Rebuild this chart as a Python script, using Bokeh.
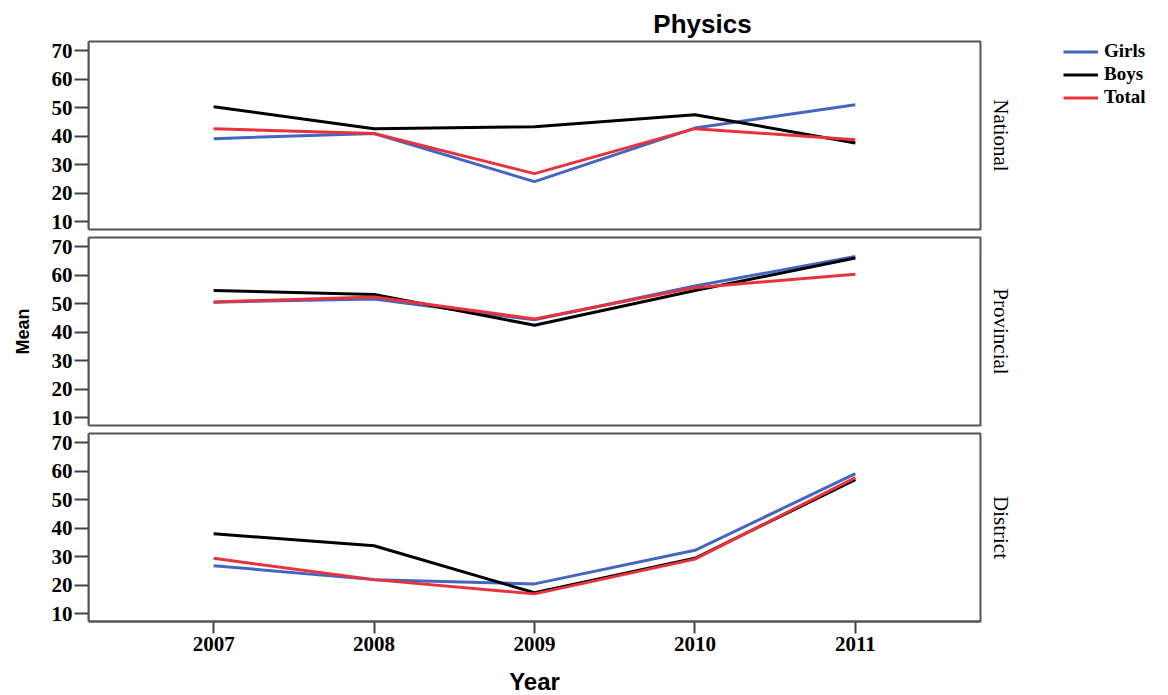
import math
from bokeh.plotting import figure
from bokeh.layouts import column
from bokeh.models import Range1d, FixedTicker, Legend, LegendItem, Label, BoxAnnotation
from bokeh.embed import file_html
from bokeh.resources import INLINE

years = [2007, 2008, 2009, 2010, 2011]
panels = ["National", "Provincial", "District"]

girls = {
    "National":   [39.1, 40.9, 24.0, 42.8, 51.0],
    "Provincial": [50.5, 51.6, 44.3, 56.2, 66.5],
    "District":   [26.8, 21.9, 20.4, 32.2, 59.1],
}
boys = {
    "National":   [50.3, 42.6, 43.3, 47.5, 37.6],
    "Provincial": [54.6, 53.2, 42.4, 54.6, 66.0],
    "District":   [38.0, 33.8, 17.3, 29.4, 57.0],
}
total = {
    "National":   [42.6, 40.9, 26.8, 42.6, 38.7],
    "Provincial": [50.6, 52.3, 44.6, 55.6, 60.3],
    "District":   [29.4, 21.9, 16.9, 29.1, 57.7],
}
y_ticks = [10, 20, 30, 40, 50, 60, 70]
series_names = ["Girls", "Boys", "Total"]
series_colors = ["#4466c0", "#000000", "#e8333d"]

# panel box extents (data)
X0, X1 = 2006.22, 2011.78
Y0, Y1 = 7.2, 73.2

W = 1168
LEFT = 88
BOX_W = 892
BOX_H = 188
kx = BOX_W / (X1 - X0)
ky = BOX_H / (Y1 - Y0)
X_END = X1 + (W - LEFT - BOX_W) / kx

SERIF = "Liberation Serif"
SANS = "Liberation Sans"
EDGE = "#555555"

# (space above box inside frame, space below box inside frame)
specs = [(41, 4), (4, 4), (4, 74)]

figs = []
for i, name in enumerate(panels):
    above, below = specs[i]
    frame_h = above + BOX_H + below
    p = figure(width=W, height=frame_h, output_backend="svg",
               toolbar_location=None,
               x_range=Range1d(X0, X_END),
               y_range=Range1d(Y0 - below / ky, Y1 + above / ky),
               min_border_left=LEFT, min_border_right=0,
               min_border_top=0, min_border_bottom=0)
    p.grid.visible = False
    p.outline_line_color = None
    p.background_fill_color = "white"
    p.border_fill_color = "white"

    p.add_layout(BoxAnnotation(left=X0, right=X1, bottom=Y0, top=Y1,
                               fill_alpha=0, line_color=EDGE, line_alpha=1.0,
                               line_width=2))

    # y axis
    ya = p.yaxis[0]
    ya.bounds = (Y0, Y1)
    ya.ticker = FixedTicker(ticks=y_ticks)
    ya.minor_tick_line_color = None
    ya.major_tick_in = 0
    ya.major_tick_out = 14
    ya.major_tick_line_color = "#444444"
    ya.major_tick_line_width = 2
    ya.axis_line_color = EDGE
    ya.axis_line_width = 2
    ya.major_label_standoff = 2
    ya.major_label_text_font = SERIF
    ya.major_label_text_font_style = "bold"
    ya.major_label_text_font_size = "21px"
    ya.major_label_text_color = "#000000"
    if i == 1:
        ya.axis_label = "Mean"
        ya.axis_label_text_font = SANS
        ya.axis_label_text_font_style = "bold"
        ya.axis_label_text_font_size = "18px"
        ya.axis_label_text_color = "#000000"
        ya.axis_label_standoff = 16

    # x axis (drawn at the bottom edge of the lowest box)
    xa = p.xaxis[0]
    if i == 2:
        xa.fixed_location = Y0
        xa.bounds = (X0, X1)
        xa.ticker = FixedTicker(ticks=years)
        xa.minor_tick_line_color = None
        xa.major_tick_in = 0
        xa.major_tick_out = 12
        xa.major_tick_line_color = "#444444"
        xa.major_tick_line_width = 2
        xa.axis_line_color = EDGE
        xa.axis_line_width = 2
        xa.major_label_standoff = 3
        xa.major_label_text_font = SERIF
        xa.major_label_text_font_style = "bold"
        xa.major_label_text_font_size = "21px"
        xa.major_label_text_color = "#000000"
        p.add_layout(Label(x=(X0 + X1) / 2, y=14, x_units="data", y_units="screen",
                           text="Year", text_align="center", text_baseline="middle",
                           text_font=SANS, text_font_style="bold",
                           text_font_size="24px", text_color="#000000"))
    else:
        xa.visible = False

    renderers = []
    for vals, col in zip([girls[name], boys[name], total[name]], series_colors):
        renderers.append(p.line(years, vals, line_color=col, line_width=3))

    # facet label at right of the box
    p.add_layout(Label(x=1000 - LEFT, y=(Y0 + Y1) / 2, x_units="screen", y_units="data",
                       text=name, angle=-math.pi / 2, text_align="center",
                       text_baseline="middle", text_font=SERIF,
                       text_font_size="21px", text_color="#000000"))

    if i == 0:
        p.add_layout(Label(x=702 - LEFT, y=frame_h - 23, x_units="screen",
                           y_units="screen", text="Physics", text_align="center",
                           text_baseline="middle", text_font=SANS,
                           text_font_style="bold", text_font_size="26px",
                           text_color="#000000"))
        legend = Legend(items=[LegendItem(label=n, renderers=[r])
                               for n, r in zip(series_names, renderers)],
                        location=(1063 - LEFT, frame_h - 108))
        legend.border_line_color = None
        legend.background_fill_alpha = 0
        legend.padding = 0
        legend.margin = 0
        legend.spacing = 1
        legend.glyph_width = 35
        legend.glyph_height = 19
        legend.label_height = 19
        legend.label_standoff = 6
        legend.label_text_font = SERIF
        legend.label_text_font_style = "bold"
        legend.label_text_font_size = "19px"
        legend.label_text_color = "#000000"
        p.add_layout(legend)
    figs.append(p)

layout = column(*figs, spacing=0)
open("out.html", "w").write(file_html(layout, INLINE))
